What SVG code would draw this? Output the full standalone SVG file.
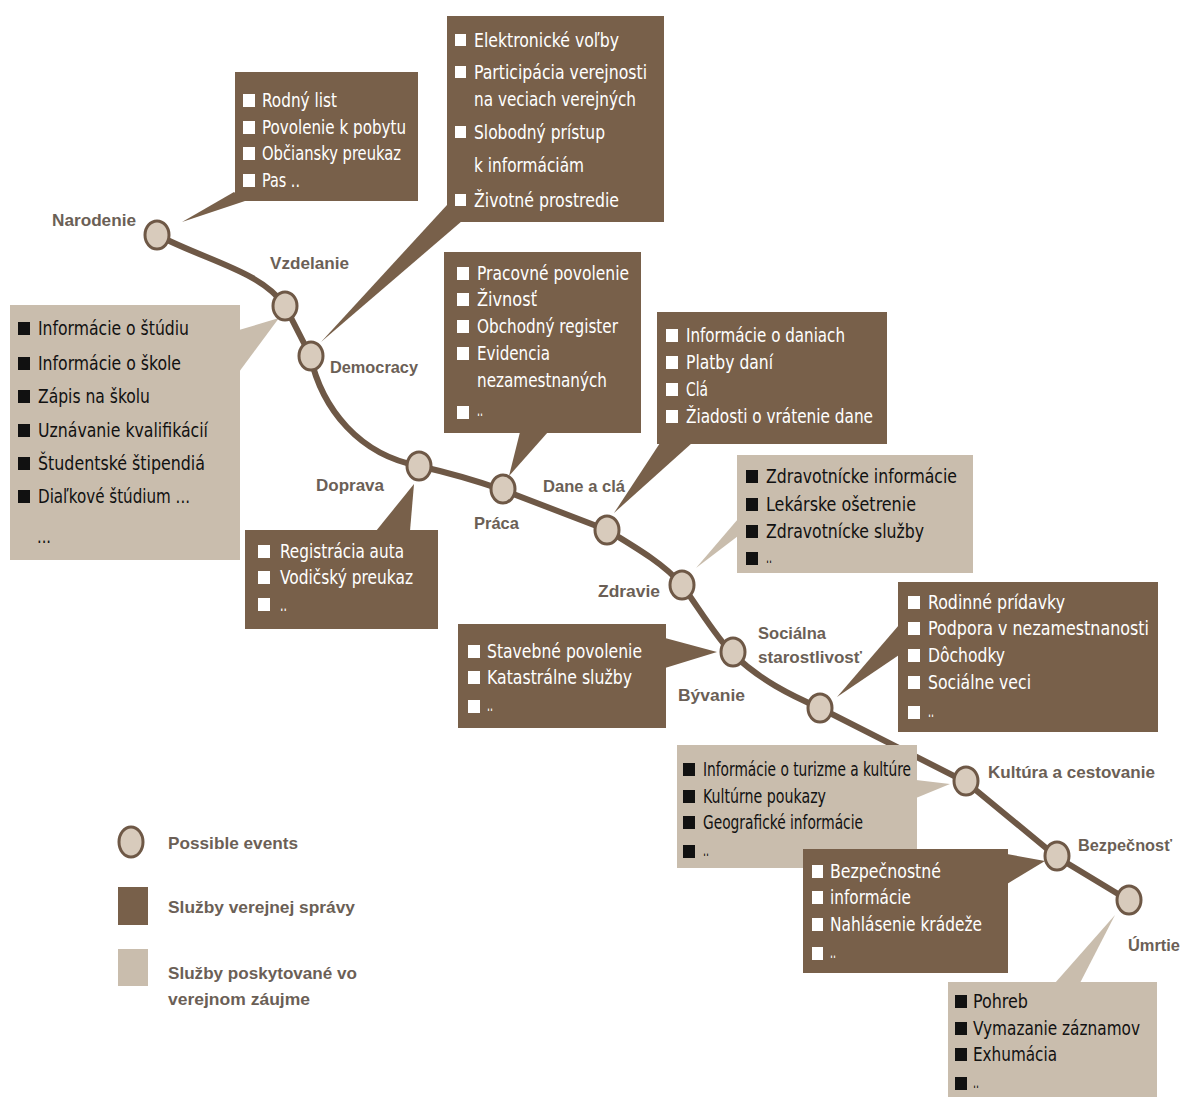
<svg xmlns="http://www.w3.org/2000/svg" width="1181" height="1097" viewBox="0 0 1181 1097">
<style>
.dk{fill:#78604a}
.lt{fill:#c9bdad}
.w{fill:#ffffff;font-family:"Liberation Sans Narrow","DejaVu Sans Condensed","Liberation Sans",sans-serif;font-size:20px}
.b{fill:#111111;font-family:"Liberation Sans Narrow","DejaVu Sans Condensed","Liberation Sans",sans-serif;font-size:20px}
.sw{fill:#ffffff}
.sb{fill:#111111}
.lbl{fill:#6b5f56;font-family:"Liberation Sans","DejaVu Sans",sans-serif;font-weight:bold;font-size:17px}
.ev{fill:#d8cbbc;stroke:#6e5846;stroke-width:3}
.road{fill:none;stroke:#6e5846;stroke-width:6;stroke-linecap:round}
</style>
<rect width="1181" height="1097" fill="#ffffff"/>

<g id="connectors">
<path class="road" d="M157,235 C210,262 262,272 285,306 L310,355 C322,410 360,455 419,466 C450,473 480,482 503,490 L607,530 C640,550 665,565 682,585 C700,610 718,640 733,654 C760,680 790,695 820,708 L966,782 L1057,857 L1128,900"/>
</g>

<!-- callout boxes -->
<g id="box-narodenie">
<polygon class="dk" points="234,192 245,201 182,222"/>
<rect class="dk" x="235" y="72" width="183" height="129"/>
<rect class="sw" x="243" y="94" width="12" height="13"/><text class="w" x="262" y="107" textLength="75" lengthAdjust="spacingAndGlyphs">Rodný list</text>
<rect class="sw" x="243" y="121" width="12" height="13"/><text class="w" x="262" y="134" textLength="144" lengthAdjust="spacingAndGlyphs">Povolenie k pobytu</text>
<rect class="sw" x="243" y="147" width="12" height="13"/><text class="w" x="262" y="160" textLength="139" lengthAdjust="spacingAndGlyphs">Občiansky preukaz</text>
<rect class="sw" x="243" y="174" width="12" height="13"/><text class="w" x="262" y="187" textLength="38" lengthAdjust="spacingAndGlyphs">Pas ..</text>
</g>

<g id="box-democracy">
<polygon class="dk" points="447,205 462,221 321,342"/>
<rect class="dk" x="447" y="16" width="217" height="206"/>
<rect class="sw" x="455" y="34" width="11" height="12"/><text class="w" x="474" y="47" textLength="145" lengthAdjust="spacingAndGlyphs">Elektronické voľby</text>
<rect class="sw" x="455" y="66" width="11" height="12"/><text class="w" x="474" y="79" textLength="173" lengthAdjust="spacingAndGlyphs">Participácia verejnosti</text>
<text class="w" x="474" y="106" textLength="162" lengthAdjust="spacingAndGlyphs">na veciach verejných</text>
<rect class="sw" x="455" y="126" width="11" height="12"/><text class="w" x="474" y="139" textLength="131" lengthAdjust="spacingAndGlyphs">Slobodný prístup</text>
<text class="w" x="474" y="172" textLength="110" lengthAdjust="spacingAndGlyphs">k informáciám</text>
<rect class="sw" x="455" y="194" width="11" height="12"/><text class="w" x="474" y="207" textLength="145" lengthAdjust="spacingAndGlyphs">Životné prostredie</text>
</g>

<g id="box-vzdelanie">
<polygon class="lt" points="239,330 239,372 279,318"/>
<rect class="lt" x="10" y="305" width="230" height="255"/>
<rect class="sb" x="18" y="322" width="12" height="13"/><text class="b" x="38" y="335" textLength="151" lengthAdjust="spacingAndGlyphs">Informácie o štúdiu</text>
<rect class="sb" x="18" y="357" width="12" height="13"/><text class="b" x="38" y="370" textLength="143" lengthAdjust="spacingAndGlyphs">Informácie o škole</text>
<rect class="sb" x="18" y="390" width="12" height="13"/><text class="b" x="38" y="403" textLength="112" lengthAdjust="spacingAndGlyphs">Zápis na školu</text>
<rect class="sb" x="18" y="424" width="12" height="13"/><text class="b" x="38" y="437" textLength="170" lengthAdjust="spacingAndGlyphs">Uznávanie kvalifikácií</text>
<rect class="sb" x="18" y="457" width="12" height="13"/><text class="b" x="38" y="470" textLength="167" lengthAdjust="spacingAndGlyphs">Študentské štipendiá</text>
<rect class="sb" x="18" y="490" width="12" height="13"/><text class="b" x="38" y="503" textLength="152" lengthAdjust="spacingAndGlyphs">Diaľkové štúdium ...</text>
<text class="b" x="37" y="543" textLength="14" lengthAdjust="spacingAndGlyphs">...</text>
</g>

<g id="box-doprava">
<polygon class="dk" points="376,531 410,531 414,484"/>
<rect class="dk" x="245" y="530" width="193" height="99"/>
<rect class="sw" x="258" y="545" width="12" height="13"/><text class="w" x="280" y="558" textLength="124" lengthAdjust="spacingAndGlyphs">Registrácia auta</text>
<rect class="sw" x="258" y="571" width="12" height="13"/><text class="w" x="280" y="584" textLength="133" lengthAdjust="spacingAndGlyphs">Vodičský preukaz</text>
<rect class="sw" x="258" y="598" width="12" height="13"/><text class="w" x="280" y="611" textLength="7" lengthAdjust="spacingAndGlyphs">..</text>
</g>

<g id="box-praca">
<polygon class="dk" points="520,432 548,432 509,476"/>
<rect class="dk" x="444" y="252" width="197" height="181"/>
<rect class="sw" x="457" y="267" width="12" height="13"/><text class="w" x="477" y="280" textLength="152" lengthAdjust="spacingAndGlyphs">Pracovné povolenie</text>
<rect class="sw" x="457" y="293" width="12" height="13"/><text class="w" x="477" y="306" textLength="60" lengthAdjust="spacingAndGlyphs">Živnosť</text>
<rect class="sw" x="457" y="320" width="12" height="13"/><text class="w" x="477" y="333" textLength="141" lengthAdjust="spacingAndGlyphs">Obchodný register</text>
<rect class="sw" x="457" y="347" width="12" height="13"/><text class="w" x="477" y="360" textLength="73" lengthAdjust="spacingAndGlyphs">Evidencia</text>
<text class="w" x="477" y="387" textLength="130" lengthAdjust="spacingAndGlyphs">nezamestnaných</text>
<rect class="sw" x="457" y="406" width="12" height="13"/><text class="w" x="477" y="416" textLength="6" lengthAdjust="spacingAndGlyphs">..</text>
</g>

<g id="box-dane">
<polygon class="dk" points="660,443 692,443 614,513"/>
<rect class="dk" x="657" y="312" width="230" height="132"/>
<rect class="sw" x="666" y="329" width="12" height="13"/><text class="w" x="686" y="342" textLength="159" lengthAdjust="spacingAndGlyphs">Informácie o daniach</text>
<rect class="sw" x="666" y="356" width="12" height="13"/><text class="w" x="686" y="369" textLength="87" lengthAdjust="spacingAndGlyphs">Platby daní</text>
<rect class="sw" x="666" y="383" width="12" height="13"/><text class="w" x="686" y="396" textLength="22" lengthAdjust="spacingAndGlyphs">Clá</text>
<rect class="sw" x="666" y="410" width="12" height="13"/><text class="w" x="686" y="423" textLength="187" lengthAdjust="spacingAndGlyphs">Žiadosti o vrátenie dane</text>
</g>

<g id="box-zdravie">
<polygon class="lt" points="738,519 738,536 696,568"/>
<rect class="lt" x="737" y="455" width="236" height="118"/>
<rect class="sb" x="746" y="470" width="12" height="13"/><text class="b" x="766" y="483" textLength="191" lengthAdjust="spacingAndGlyphs">Zdravotnícke informácie</text>
<rect class="sb" x="746" y="498" width="12" height="13"/><text class="b" x="766" y="511" textLength="150" lengthAdjust="spacingAndGlyphs">Lekárske ošetrenie</text>
<rect class="sb" x="746" y="525" width="12" height="13"/><text class="b" x="766" y="538" textLength="158" lengthAdjust="spacingAndGlyphs">Zdravotnícke služby</text>
<rect class="sb" x="746" y="552" width="12" height="13"/><text class="b" x="766" y="563" textLength="6" lengthAdjust="spacingAndGlyphs">..</text>
</g>

<g id="box-byvanie">
<polygon class="dk" points="665,638 665,668 717,652"/>
<rect class="dk" x="458" y="624" width="208" height="104"/>
<rect class="sw" x="468" y="645" width="12" height="13"/><text class="w" x="487" y="658" textLength="155" lengthAdjust="spacingAndGlyphs">Stavebné povolenie</text>
<rect class="sw" x="468" y="671" width="12" height="13"/><text class="w" x="487" y="684" textLength="145" lengthAdjust="spacingAndGlyphs">Katastrálne služby</text>
<rect class="sw" x="468" y="700" width="12" height="13"/><text class="w" x="487" y="711" textLength="6" lengthAdjust="spacingAndGlyphs">..</text>
</g>

<g id="box-socialna">
<polygon class="dk" points="899,625 899,655 837,697"/>
<rect class="dk" x="898" y="582" width="260" height="150"/>
<rect class="sw" x="908" y="596" width="12" height="13"/><text class="w" x="928" y="609" textLength="137" lengthAdjust="spacingAndGlyphs">Rodinné prídavky</text>
<rect class="sw" x="908" y="622" width="12" height="13"/><text class="w" x="928" y="635" textLength="221" lengthAdjust="spacingAndGlyphs">Podpora v nezamestnanosti</text>
<rect class="sw" x="908" y="649" width="12" height="13"/><text class="w" x="928" y="662" textLength="77" lengthAdjust="spacingAndGlyphs">Dôchodky</text>
<rect class="sw" x="908" y="676" width="12" height="13"/><text class="w" x="928" y="689" textLength="103" lengthAdjust="spacingAndGlyphs">Sociálne veci</text>
<rect class="sw" x="908" y="706" width="12" height="13"/><text class="w" x="928" y="717" textLength="6" lengthAdjust="spacingAndGlyphs">..</text>
</g>

<g id="box-kultura">
<polygon class="lt" points="916,780 916,798 950,784"/>
<rect class="lt" x="677" y="745" width="240" height="123"/>
<rect class="sb" x="683" y="763" width="12" height="13"/><text class="b" x="703" y="776" textLength="208" lengthAdjust="spacingAndGlyphs">Informácie o turizme a kultúre</text>
<rect class="sb" x="683" y="790" width="12" height="13"/><text class="b" x="703" y="803" textLength="123" lengthAdjust="spacingAndGlyphs">Kultúrne poukazy</text>
<rect class="sb" x="683" y="816" width="12" height="13"/><text class="b" x="703" y="829" textLength="160" lengthAdjust="spacingAndGlyphs">Geografické informácie</text>
<rect class="sb" x="683" y="845" width="12" height="13"/><text class="b" x="703" y="856" textLength="6" lengthAdjust="spacingAndGlyphs">..</text>
</g>

<g id="box-bezpecnost">
<polygon class="dk" points="1007,854 1007,884 1045,861"/>
<rect class="dk" x="803" y="849" width="205" height="124"/>
<rect class="sw" x="812" y="865" width="11" height="13"/><text class="w" x="830" y="878" textLength="111" lengthAdjust="spacingAndGlyphs">Bezpečnostné</text>
<rect class="sw" x="812" y="891" width="11" height="13"/><text class="w" x="830" y="904" textLength="81" lengthAdjust="spacingAndGlyphs">informácie</text>
<rect class="sw" x="812" y="918" width="11" height="13"/><text class="w" x="830" y="931" textLength="152" lengthAdjust="spacingAndGlyphs">Nahlásenie krádeže</text>
<rect class="sw" x="812" y="947" width="11" height="13"/><text class="w" x="830" y="958" textLength="6" lengthAdjust="spacingAndGlyphs">..</text>
</g>

<g id="box-umrtie">
<polygon class="lt" points="1055,983 1080,983 1115,915"/>
<rect class="lt" x="948" y="982" width="209" height="115"/>
<rect class="sb" x="955" y="995" width="12" height="13"/><text class="b" x="973" y="1008" textLength="55" lengthAdjust="spacingAndGlyphs">Pohreb</text>
<rect class="sb" x="955" y="1022" width="12" height="13"/><text class="b" x="973" y="1035" textLength="167" lengthAdjust="spacingAndGlyphs">Vymazanie záznamov</text>
<rect class="sb" x="955" y="1048" width="12" height="13"/><text class="b" x="973" y="1061" textLength="84" lengthAdjust="spacingAndGlyphs">Exhumácia</text>
<rect class="sb" x="955" y="1077" width="12" height="13"/><text class="b" x="973" y="1088" textLength="6" lengthAdjust="spacingAndGlyphs">..</text>
</g>

<!-- event nodes -->
<g id="node-narodenie"><ellipse class="ev" cx="157" cy="235" rx="12" ry="14"/><text class="lbl" x="52" y="226" textLength="84" lengthAdjust="spacingAndGlyphs">Narodenie</text></g>
<g id="node-vzdelanie"><ellipse class="ev" cx="285" cy="306" rx="12" ry="14"/><text class="lbl" x="270" y="269" textLength="79" lengthAdjust="spacingAndGlyphs">Vzdelanie</text></g>
<g id="node-democracy"><ellipse class="ev" cx="311" cy="356" rx="12" ry="14"/><text class="lbl" x="330" y="373" textLength="88" lengthAdjust="spacingAndGlyphs">Democracy</text></g>
<g id="node-doprava"><ellipse class="ev" cx="419" cy="466" rx="12" ry="14"/><text class="lbl" x="316" y="491" textLength="68" lengthAdjust="spacingAndGlyphs">Doprava</text></g>
<g id="node-praca"><ellipse class="ev" cx="503" cy="489" rx="12" ry="14"/><text class="lbl" x="474" y="529" textLength="45" lengthAdjust="spacingAndGlyphs">Práca</text></g>
<g id="node-dane"><ellipse class="ev" cx="607" cy="530" rx="12" ry="14"/><text class="lbl" x="543" y="492" textLength="82" lengthAdjust="spacingAndGlyphs">Dane a clá</text></g>
<g id="node-zdravie"><ellipse class="ev" cx="682" cy="585" rx="12" ry="14"/><text class="lbl" x="598" y="597" textLength="62" lengthAdjust="spacingAndGlyphs">Zdravie</text></g>
<g id="node-byvanie"><ellipse class="ev" cx="733" cy="652" rx="12" ry="14"/><text class="lbl" x="678" y="701" textLength="67" lengthAdjust="spacingAndGlyphs">Bývanie</text></g>
<g id="node-socialna"><ellipse class="ev" cx="820" cy="708" rx="12" ry="14"/><text class="lbl" x="758" y="639" textLength="68" lengthAdjust="spacingAndGlyphs">Sociálna</text><text class="lbl" x="758" y="663" textLength="104" lengthAdjust="spacingAndGlyphs">starostlivosť</text></g>
<g id="node-kultura"><ellipse class="ev" cx="966" cy="781" rx="12" ry="14"/><text class="lbl" x="988" y="778" textLength="167" lengthAdjust="spacingAndGlyphs">Kultúra a cestovanie</text></g>
<g id="node-bezpecnost"><ellipse class="ev" cx="1057" cy="856" rx="12" ry="14"/><text class="lbl" x="1078" y="851" textLength="94" lengthAdjust="spacingAndGlyphs">Bezpečnosť</text></g>
<g id="node-umrtie"><ellipse class="ev" cx="1129" cy="900" rx="12" ry="14"/><text class="lbl" x="1128" y="951" textLength="52" lengthAdjust="spacingAndGlyphs">Úmrtie</text></g>

<!-- legend -->
<g id="legend">
<ellipse class="ev" cx="131" cy="842" rx="12" ry="15"/>
<text class="lbl" x="168" y="849" textLength="130" lengthAdjust="spacingAndGlyphs">Possible events</text>
<rect class="dk" x="118" y="887" width="30" height="38"/>
<text class="lbl" x="168" y="913" textLength="187" lengthAdjust="spacingAndGlyphs">Služby verejnej správy</text>
<rect class="lt" x="118" y="949" width="30" height="37"/>
<text class="lbl" x="168" y="979" textLength="189" lengthAdjust="spacingAndGlyphs">Služby poskytované vo</text>
<text class="lbl" x="168" y="1005" textLength="142" lengthAdjust="spacingAndGlyphs">verejnom záujme</text>
</g>
</svg>
